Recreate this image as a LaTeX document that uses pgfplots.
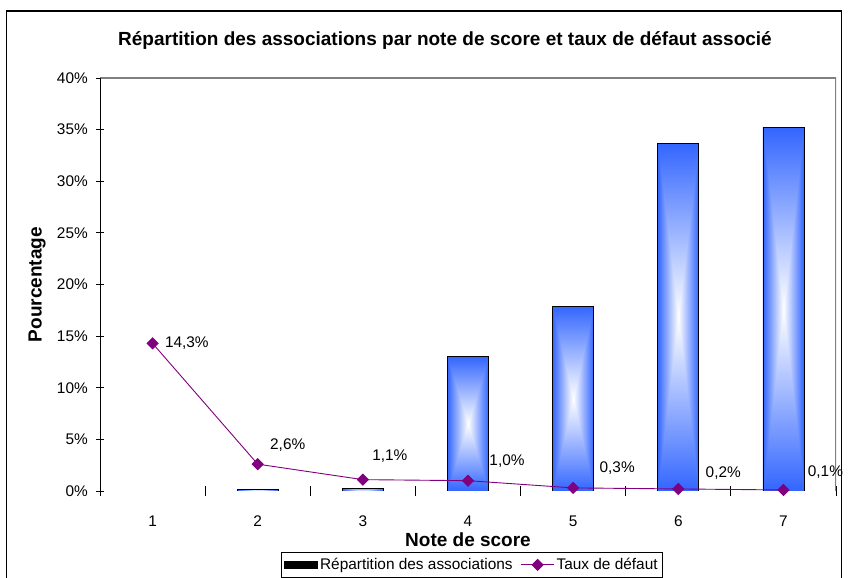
\documentclass[border=0pt]{standalone}
\usepackage{fontspec}
\setmainfont{Liberation Sans}
\usepackage{pgfplots}
\pgfplotsset{compat=1.18}

\definecolor{xlblue}{HTML}{3366FF}
\definecolor{xlpurple}{HTML}{800080}
\definecolor{xlgray}{HTML}{808080}

% rectangular "from centre" gradient: white in the middle, blue at the edges
\pgfdeclarefunctionalshading{barshade}{\pgfpointorigin}{\pgfpoint{100bp}{100bp}}{}{
  50 sub abs 25 div exch 50 sub abs 25 div
  2 copy lt {exch} if pop
  dup 1 gt {pop 1} if
  dup 0.8 mul 1 exch sub exch 0.6 mul 1 exch sub 1
}

\newcommand{\ticksize}{\fontsize{15.4bp}{18bp}\selectfont}
\newcommand{\labsize}{\fontsize{19bp}{22bp}\selectfont\bfseries}

\pgfplotstableread{
x share
1 0
2 0.16
3 0.26
4 13.0
5 17.9
6 33.7
7 35.2
}\sharetab

\pgfplotstableread{
x rate dx dy
1 14.3 12 0
2 2.6 12 19
3 1.1 9 24
4 1.0 21 20
5 0.3 26 20
6 0.2 27 16
7 0.1 24 18
}\ratetab

\begin{document}
\begin{tikzpicture}
\draw[black, line width=1.5bp] (6.5bp,-10bp) rectangle (841.5bp,567bp);
\node[font=\labsize] at (445bp,537bp) {Répartition des associations par note de score et taux de défaut associé};
\begin{axis}[
  at={(100bp,87bp)}, anchor=south west,
  scale only axis, width=736bp, height=413bp,
  xmin=0.5, xmax=7.5, ymin=0, ymax=40,
  axis line style={draw=none},
  tick pos=left,
  tick align=center,
  xtick={1,...,7},
  major x tick style={draw=none},
  minor xtick={0.5,1.5,...,7.5},
  minor tick length=10bp,
  ytick={0,5,...,40},
  major tick length=8bp,
  tick style={black, line width=0.8bp},
  /pgf/number format/assume math mode=true,
  ticklabel style={font=\ticksize},
  yticklabel={\pgfmathprintnumber{\tick}\%},
  yticklabel style={anchor=east, inner sep=0pt, xshift=-8bp},
  xticklabel style={anchor=north, inner sep=0pt, yshift=-21bp},
  xlabel={Note de score},
  ylabel={Pourcentage},
  every axis x label/.style={at={(axis description cs:0.5,-0.1186)}, anchor=center, font=\labsize},
  every axis y label/.style={at={(axis description cs:-0.0856,0.5)}, anchor=center, rotate=90, font=\labsize},
  legend style={at={(axis description cs:0.5054,-0.148)}, anchor=north,
    legend columns=2, draw=black, line width=0.8bp, font=\ticksize,
    inner xsep=3bp, inner ysep=4bp,
    /tikz/every even column/.append style={column sep=6bp}},
  legend cell align=left,
]
% one plot per bar, so that each bar gets its own gradient
\pgfplotsinvokeforeach{1,...,7}{
  \addplot[ybar, bar width=41bp, draw=black, line width=0.8bp, shade, shading=barshade, forget plot,
    x filter/.expression={x==#1 ? x : nan}]
    table[x=x, y=share] {\sharetab};
}
\addlegendimage{legend image code/.code={\fill[black] (0bp,-3.5bp) rectangle (33bp,3.5bp);}}
\addlegendentry{Répartition des associations}

\addplot[xlpurple, line width=0.9bp, mark=square*, mark size=3.9bp,
  mark options={rotate=45, fill=xlpurple, draw=xlpurple},
  legend image code/.code={\draw[mark repeat=2,mark phase=2] plot coordinates {(0bp,0bp) (16.5bp,0bp) (33bp,0bp)};},
  visualization depends on={\thisrow{dx} \as \labdx},
  visualization depends on={\thisrow{dy} \as \labdy},
  nodes near coords={\pgfmathprintnumber[fixed,fixed zerofill,precision=1,use comma]{\pgfplotspointmeta}\%},
  every node near coord/.append style={black, font=\ticksize, anchor=west, inner sep=0pt,
    xshift=\labdx bp, yshift=\labdy bp},
] table[x=x, y=rate] {\ratetab};
\addlegendentry{Taux de défaut}

\draw[xlgray, line width=1.5bp] (rel axis cs:0,1) -- (rel axis cs:1,1) -- (rel axis cs:1,0);
\draw[black, line width=0.9bp] (rel axis cs:0,1) -- (rel axis cs:0,0) -- (rel axis cs:1,0);
\end{axis}
\pgfresetboundingbox
\path[use as bounding box] (0bp,0bp) rectangle (848bp,578bp);
\end{tikzpicture}
\end{document}
